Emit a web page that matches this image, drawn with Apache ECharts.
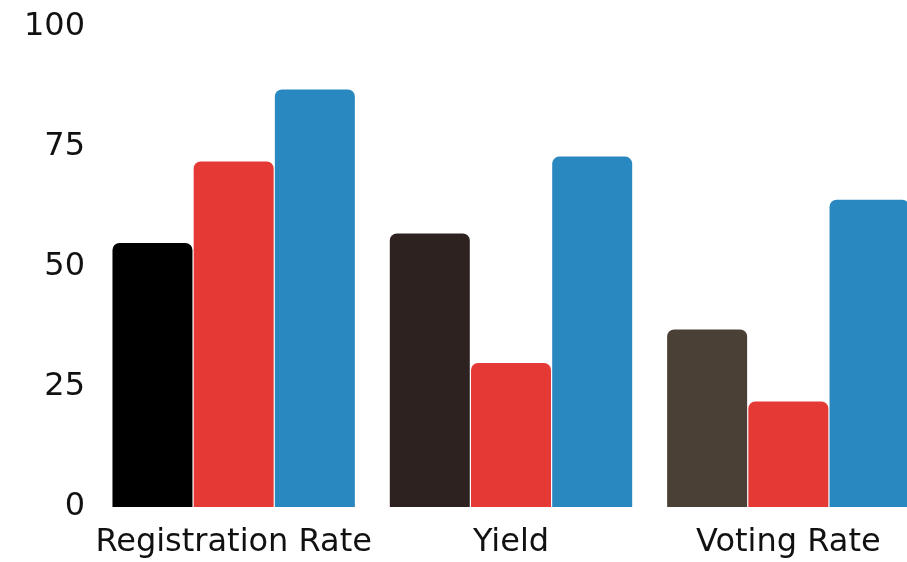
<!DOCTYPE html>
<html>
<head>
<meta charset="utf-8">
<script src="https://cdn.jsdelivr.net/npm/echarts@6/dist/echarts.min.js"></script>
<style>
  html, body { margin: 0; padding: 0; background: #fff; }
  #chart { width: 907px; height: 562px; }
</style>
</head>
<body>
<div id="chart"></div>
<script>
// data
const categories = ["Registration Rate", "Yield", "Voting Rate"];
const firstValues = [55, 57, 37];
const firstColors = ["#000000", "#2d2220", "#4a4035"];
const redValues = [72, 30, 22];
const blueValues = [87, 73, 64];
const yTicks = [0, 25, 50, 75, 100];

const fontFamily = "'DejaVu Sans', sans-serif";

let chart = echarts.init(document.getElementById("chart"));

let barBase = {
  type: "bar",
  barWidth: 80,
  barGap: "1.5%",
  animation: false,
};

chart.setOption({
  backgroundColor: "#ffffff",
  grid: {
    left: 95,
    top: 27,
    width: 832,
    height: 480,
    outerBoundsMode: "none",
    containLabel: false,
  },
  xAxis: {
    type: "category",
    data: categories,
    axisLine: { show: false },
    axisTick: { show: false },
    axisLabel: {
      interval: 0,
      hideOverlap: false,
      color: "#111",
      fontSize: 32,
      fontFamily: fontFamily,
      margin: 20,
    },
  },
  yAxis: {
    type: "value",
    min: yTicks[0],
    max: yTicks[yTicks.length - 1],
    interval: 25,
    axisLine: { show: false },
    axisTick: { show: false },
    splitLine: { show: false },
    axisLabel: {
      color: "#111",
      fontSize: 32,
      fontFamily: fontFamily,
      margin: 10,
    },
  },
  series: [
    Object.assign({}, barBase, {
      name: "first",
      data: firstValues.map((v, i) => ({
        value: v,
        itemStyle: { color: firstColors[i] },
      })),
      itemStyle: { borderRadius: [7, 7, 0, 0] },
    }),
    Object.assign({}, barBase, {
      name: "red",
      data: redValues,
      itemStyle: { color: "#e53935", borderRadius: [7, 7, 0, 0] },
    }),
    Object.assign({}, barBase, {
      name: "blue",
      data: blueValues,
      itemStyle: { color: "#2a88c0", borderRadius: [7, 7, 0, 0] },
    }),
  ],
});
</script>
</body>
</html>
